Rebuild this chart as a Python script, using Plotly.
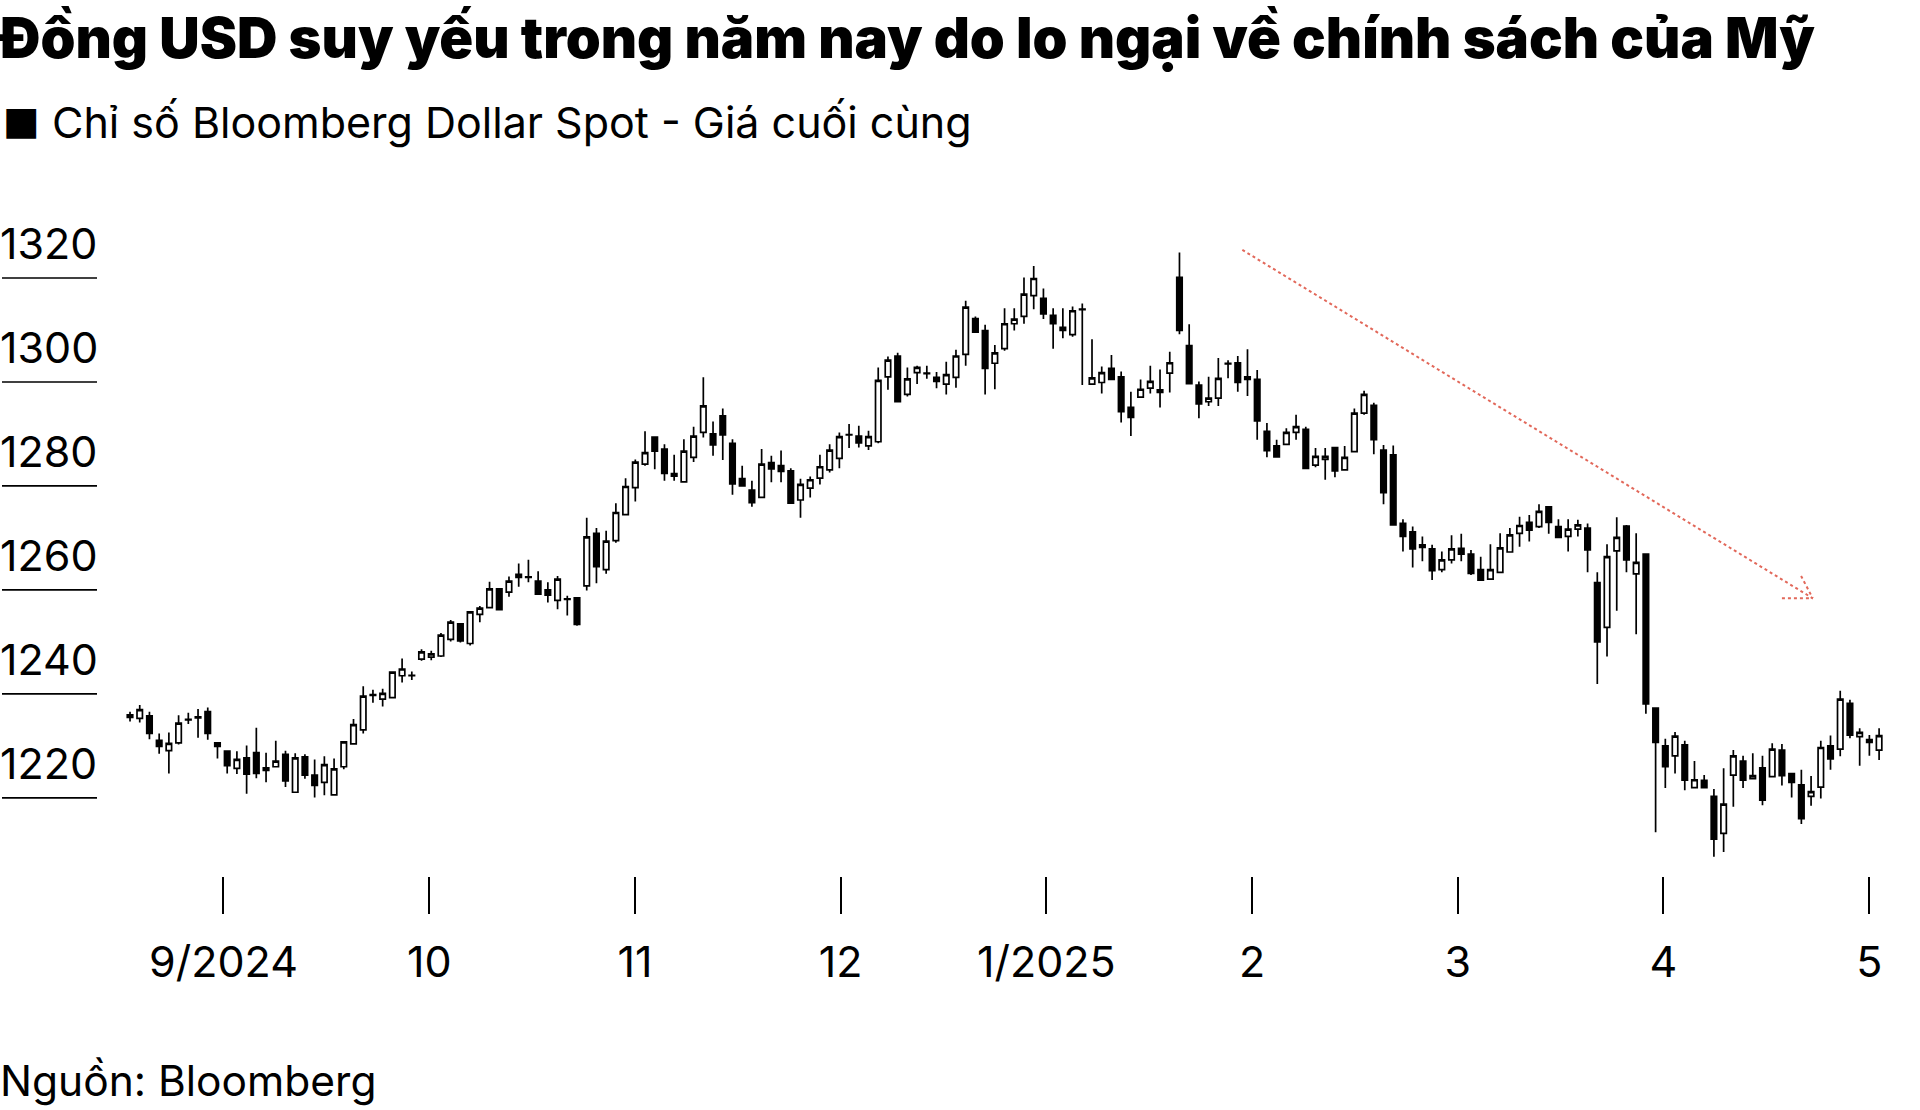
import plotly.graph_objects as go

# ---- data (Bloomberg Dollar Spot Index, daily OHLC) ----
opens = [1236.0,1235.3,1235.8,1231.1,1229.1,1230.6,1235.0,1235.4,1236.6,1230.6,
         1229.0,1225.7,1227.7,1228.7,1225.8,1226.0,1228.4,1221.1,1227.9,1224.4,
         1223.0,1220.6,1226.0,1230.4,1233.1,1239.7,1239.0,1239.3,1243.5,1243.5,
         1246.7,1247.1,1247.3,1250.5,1253.5,1249.7,1255.3,1256.6,1260.2,1259.6,
         1263.0,1262.5,1261.7,1260.0,1258.0,1258.3,1258.5,1260.8,1270.9,1263.9,
         1269.5,1274.5,1279.7,1284.2,1289.4,1287.1,1282.4,1280.8,1285.5,1290.3,
         1290.0,1293.5,1288.2,1281.4,1279.2,1277.8,1284.5,1283.9,1282.9,1277.3,
         1279.6,1281.5,1283.1,1285.3,1289.8,1289.6,1287.7,1288.5,1301.0,1305.0,
         1297.6,1301.8,1301.7,1300.9,1299.6,1300.9,1305.3,1312.2,1309.9,1303.6,
         1306.4,1311.2,1312.6,1316.6,1316.1,1312.8,1310.5,1309.1,1313.9,1299.6,
         1299.9,1302.6,1301.0,1295.1,1297.1,1298.8,1298.5,1301.7,1320.1,1307.0,
         1299.4,1296.2,1296.9,1303.5,1303.7,1301.0,1300.5,1290.5,1287.7,1288.0,
         1290.3,1290.9,1284.0,1285.1,1287.4,1283.1,1286.6,1294.0,1295.5,1286.9,
         1286.0,1272.8,1271.2,1268.7,1267.9,1263.9,1265.8,1268.0,1266.9,1263.9,
         1262.1,1263.4,1267.3,1270.9,1273.0,1272.2,1276.0,1272.2,1270.3,1271.7,
         1271.9,1261.4,1252.8,1267.5,1272.3,1263.1,1266.9,1237.3,1230.0,1228.1,
         1230.2,1222.0,1223.4,1220.3,1213.2,1224.4,1227.1,1223.7,1225.8,1224.1,
         1229.2,1224.7,1222.5,1220.3,1222.1,1230.0,1229.4,1238.2,1231.8,1231.2,
         1229.2]
highs = [1236.6,1237.9,1236.6,1232.4,1232.6,1235.9,1236.4,1237.1,1237.4,1230.6,
         1229.0,1229.0,1230.1,1233.5,1228.7,1231.0,1229.1,1228.6,1228.4,1227.4,
         1228.0,1227.6,1230.8,1235.2,1241.5,1240.8,1241.0,1244.2,1246.8,1244.3,
         1248.6,1248.3,1251.7,1254.2,1253.6,1255.9,1256.9,1261.6,1260.3,1262.6,
         1265.1,1265.8,1263.6,1261.5,1262.7,1258.9,1258.5,1273.9,1271.9,1271.4,
         1276.7,1281.5,1285.1,1290.5,1289.4,1288.0,1286.0,1289.0,1291.4,1300.9,
         1292.4,1294.9,1289.0,1283.9,1281.0,1287.1,1285.8,1286.8,1283.4,1281.4,
         1281.8,1286.0,1288.0,1290.3,1291.9,1291.6,1290.6,1302.8,1304.9,1305.6,
         1302.8,1303.1,1303.1,1301.9,1303.9,1306.2,1315.6,1312.6,1311.0,1307.1,
         1314.2,1314.2,1320.1,1322.3,1318.0,1314.2,1314.2,1314.5,1315.1,1308.2,
         1303.0,1305.2,1302.0,1298.1,1300.5,1303.1,1302.4,1305.8,1324.9,1311.1,
         1300.1,1301.0,1304.6,1304.2,1305.0,1306.3,1302.3,1292.1,1288.9,1291.1,
         1293.7,1291.4,1287.3,1287.3,1287.4,1287.7,1294.9,1298.3,1296.0,1287.9,
         1287.8,1273.6,1272.2,1270.3,1268.7,1267.4,1270.5,1270.8,1267.7,1266.4,
         1268.8,1270.9,1271.9,1274.1,1274.4,1276.5,1276.0,1273.6,1273.6,1273.5,
         1272.8,1263.4,1268.8,1274.0,1272.5,1270.9,1266.9,1237.3,1231.4,1232.7,
         1231.0,1227.1,1224.4,1221.7,1225.7,1229.2,1228.1,1228.6,1228.1,1230.5,
         1230.4,1224.7,1225.4,1224.2,1231.0,1232.0,1240.6,1238.9,1233.4,1232.1,
         1233.4]
lows = [1234.7,1234.5,1231.3,1228.5,1224.7,1230.3,1234.2,1231.6,1231.2,1227.6,
        1224.7,1224.6,1220.8,1223.8,1223.0,1226.0,1222.1,1221.1,1223.7,1220.1,
        1220.5,1220.6,1225.5,1230.4,1232.4,1238.3,1237.6,1239.3,1242.2,1242.7,
        1246.4,1246.5,1247.1,1250.1,1249.9,1249.3,1253.8,1256.6,1256.2,1258.7,
        1260.6,1261.5,1259.2,1257.6,1256.3,1255.1,1253.1,1259.9,1261.3,1263.1,
        1269.1,1274.5,1277.0,1283.9,1283.2,1281.0,1281.0,1280.8,1284.6,1289.3,
        1285.8,1285.0,1278.3,1280.0,1276.0,1277.8,1280.7,1280.7,1276.7,1273.9,
        1277.8,1280.3,1282.6,1283.4,1287.3,1287.4,1286.9,1288.2,1298.5,1296.2,
        1297.2,1299.6,1300.6,1298.8,1297.6,1298.9,1303.1,1309.6,1297.6,1298.6,
        1306.0,1309.9,1311.2,1314.0,1312.1,1306.4,1308.4,1308.7,1299.4,1299.6,
        1297.8,1300.5,1292.2,1289.6,1297.1,1297.8,1295.1,1298.0,1309.2,1299.7,
        1293.0,1295.4,1295.4,1300.7,1298.1,1297.3,1288.9,1285.5,1285.6,1288.0,
        1288.9,1283.4,1283.6,1281.2,1281.7,1283.1,1286.6,1293.7,1286.1,1276.5,
        1272.5,1267.4,1264.3,1265.5,1261.9,1263.4,1265.1,1265.5,1262.9,1261.9,
        1262.1,1263.4,1267.3,1268.3,1269.3,1271.9,1270.8,1270.1,1267.4,1270.3,
        1263.4,1241.9,1247.2,1256.0,1263.4,1251.5,1236.2,1213.4,1221.9,1224.7,
        1221.5,1222.0,1222.0,1208.7,1209.6,1218.3,1221.9,1223.7,1218.6,1224.1,
        1222.4,1220.1,1215.0,1218.5,1219.9,1225.4,1228.0,1231.5,1226.2,1228.1,
        1227.3]
closes = [1235.5,1237.0,1232.4,1229.9,1230.5,1234.4,1235.1,1235.6,1232.4,1229.9,
          1226.2,1227.4,1224.6,1224.7,1225.3,1227.1,1223.3,1227.7,1224.4,1222.4,
          1226.4,1225.6,1230.8,1234.1,1239.6,1239.9,1240.1,1244.2,1244.8,1243.6,
          1248.1,1247.7,1251.3,1253.8,1250.2,1255.8,1256.5,1260.2,1256.2,1261.7,
          1262.4,1262.4,1259.2,1259.0,1262.1,1258.2,1253.4,1270.2,1264.5,1269.4,
          1274.9,1279.9,1284.6,1286.4,1286.7,1282.4,1281.9,1286.7,1289.6,1295.4,
          1287.9,1289.8,1280.4,1280.0,1276.8,1284.2,1283.3,1282.8,1276.7,1280.3,
          1281.2,1283.7,1286.9,1289.5,1289.9,1288.3,1289.5,1300.3,1304.2,1296.2,
          1300.6,1302.8,1301.6,1300.1,1301.4,1305.0,1314.4,1309.6,1302.6,1305.6,
          1311.2,1312.1,1316.9,1319.9,1313.1,1311.2,1309.9,1313.7,1314.0,1300.8,
          1301.8,1300.5,1294.3,1293.2,1298.6,1300.1,1298.0,1303.7,1309.9,1299.7,
          1295.8,1296.9,1300.7,1303.6,1299.9,1300.5,1292.5,1286.8,1285.6,1290.3,
          1291.4,1283.4,1285.7,1285.7,1282.9,1285.5,1294.0,1297.6,1288.9,1278.7,
          1272.5,1270.3,1267.9,1268.2,1263.7,1265.8,1267.9,1266.9,1263.2,1261.9,
          1263.9,1268.1,1270.6,1272.4,1271.5,1275.1,1273.0,1270.1,1271.7,1272.5,
          1267.7,1250.0,1266.4,1270.1,1265.8,1265.3,1238.1,1230.7,1226.0,1231.9,
          1223.4,1223.5,1222.0,1212.1,1218.8,1228.1,1223.4,1224.3,1219.6,1229.4,
          1224.3,1223.0,1216.0,1221.2,1229.7,1227.5,1239.0,1232.1,1232.6,1230.7,
          1232.0]
trading_day = list(range(len(closes)))

month_labels = ["9/2024", "10", "11", "12", "1/2025", "2", "3", "4", "5"]
y_levels = [1220, 1240, 1260, 1280, 1300, 1320]

title_text = "Đồng USD suy yếu trong năm nay do lo ngại về chính sách của Mỹ"
legend_marker = "■"
legend_text = "Chỉ số Bloomberg Dollar Spot - Giá cuối cùng"
source_text = "Nguồn: Bloomberg"

# ---- layout geometry ----
W, H = 1920, 1110
M_L, M_R, M_T, M_B = 0, 10, 160, 234
first_tick, tick_step = 9.62, 21.17
tick_positions = [first_tick + k * tick_step for k in range(len(month_labels))]
x_range = [-13.38, 183.18]
y_range = [1204.99, 1342.69]

FONT = "Inter"
RED = "#e2685a"

fig = go.Figure()
fig.add_trace(go.Candlestick(
    x=trading_day, open=opens, high=highs, low=lows, close=closes,
    increasing=dict(line=dict(color="black", width=1.7), fillcolor="white"),
    decreasing=dict(line=dict(color="black", width=1.7), fillcolor="black"),
    whiskerwidth=0, showlegend=False, hoverinfo="skip",
))

shapes = []
annotations = []
plot_w = W - M_L - M_R
plot_h = H - M_T - M_B


def px_x(px):
    return (px - M_L) / plot_w


def px_y(px):
    return (H - M_B - px) / plot_h


for v in y_levels:
    shapes.append(dict(type="line", xref="paper", yref="y", x0=px_x(2), x1=px_x(97),
                       y0=v, y1=v, line=dict(color="black", width=1.7)))
    annotations.append(dict(text=str(v), xref="paper", yref="y", x=0, y=v,
                            xanchor="left", yanchor="bottom", yshift=7, xshift=-2,
                            showarrow=False,
                            font=dict(family=FONT, size=43, color="black")))

# dotted red trend arrow
arrow_start = (114.47, 1325.4)
arrow_end = (173.17, 1258.4)
head_a = (170.0, 1258.4)
head_b = (171.97, 1262.7)
for p in (arrow_start, head_a, head_b):
    shapes.append(dict(type="line", xref="x", yref="y", x0=p[0], y0=p[1],
                       x1=arrow_end[0], y1=arrow_end[1],
                       line=dict(color=RED, width=2, dash="dot")))

annotations.append(dict(text=title_text, xref="paper", yref="paper",
                        x=px_x(-3), y=px_y(38), xanchor="left", yanchor="middle",
                        showarrow=False,
                        font=dict(family=FONT, size=56, color="black", weight=900)))
annotations.append(dict(text=legend_marker, xref="paper", yref="paper",
                        x=px_x(1), y=px_y(121), xanchor="left", yanchor="middle",
                        showarrow=False,
                        font=dict(family="DejaVu Sans", size=39, color="black")))
annotations.append(dict(text=legend_text, xref="paper", yref="paper",
                        x=px_x(50), y=px_y(122), xanchor="left", yanchor="middle",
                        showarrow=False,
                        font=dict(family=FONT, size=43, color="black")))
annotations.append(dict(text=source_text, xref="paper", yref="paper",
                        x=px_x(-2), y=px_y(1080), xanchor="left", yanchor="middle",
                        showarrow=False,
                        font=dict(family=FONT, size=42.5, color="black")))

fig.update_layout(
    width=W, height=H, paper_bgcolor="white", plot_bgcolor="white",
    margin=dict(l=M_L, r=M_R, t=M_T, b=M_B),
    boxgap=0.2,
    xaxis=dict(range=x_range, tickvals=tick_positions, ticktext=month_labels,
               ticks="outside", ticklen=37, tickwidth=2, tickcolor="black",
               showgrid=False, zeroline=False, showline=False,
               rangeslider=dict(visible=False), ticklabelstandoff=11,
               tickfont=dict(family=FONT, size=43, color="black")),
    yaxis=dict(range=y_range, visible=False, showgrid=False, zeroline=False),
    shapes=shapes, annotations=annotations,
)

fig.write_html("out.html", config={"displayModeBar": False},
               post_script="document.body.style.margin='0px';")
